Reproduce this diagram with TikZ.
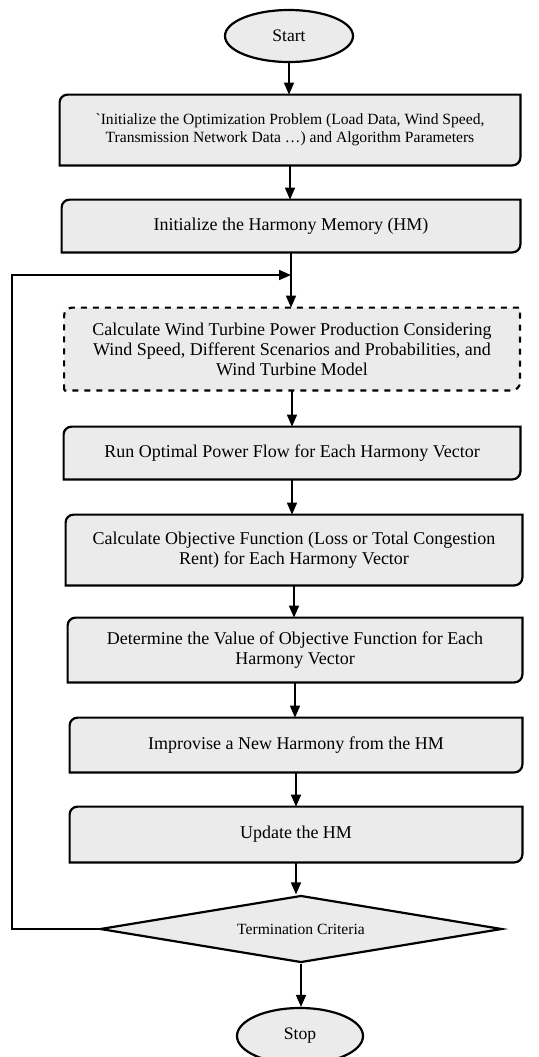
\documentclass[tikz,border=0pt]{standalone}
\usepackage{fontspec}
\setmainfont{Liberation Serif}
\usetikzlibrary{arrows.meta, shapes.geometric, backgrounds}
\definecolor{boxgray}{HTML}{EBEBEB}

\begin{document}
\begin{tikzpicture}[x=0.5pt, y=-0.5pt,
  boxline/.style={draw=black, fill=boxgray, line width=1.1pt},
  stepbox/.style={inner sep=0pt, align=center, font=\fontsize{9}{10}\selectfont},
  flow/.style={-{Triangle[length=6pt, width=5pt]}, line width=0.8pt},
  terminal/.style={ellipse, boxline, inner sep=0pt, minimum width=64pt, minimum height=26pt, font=\fontsize{8.8}{10}\selectfont}]
\useasboundingbox (0,0) rectangle (539,1057);

\node[terminal] (start) at (289,36) {Start};
\node[stepbox, minimum width=230pt, minimum height=35pt, font=\fontsize{7.8}{9}\selectfont] (init) at (290,130)
  {\textasciigrave Initialize the Optimization Problem (Load Data, Wind Speed,\\ Transmission Network Data …) and Algorithm Parameters};
\node[stepbox, minimum width=229pt, minimum height=26pt] (hm) at (291,226) {Initialize the Harmony Memory (HM)};
\node[stepbox, minimum width=227.5pt, minimum height=41pt] (wind) at (292,349)
  {Calculate Wind Turbine Power Production Considering\\ Wind Speed, Different Scenarios and Probabilities, and\\ Wind Turbine Model};
\node[stepbox, minimum width=228pt, minimum height=26pt] (opf) at (292,453) {Run Optimal Power Flow for Each Harmony Vector};
\node[stepbox, minimum width=228pt, minimum height=35pt] (obj) at (294,550)
  {Calculate Objective Function (Loss or Total Congestion\\ Rent) for Each Harmony Vector};
\node[stepbox, minimum width=227pt, minimum height=32pt] (val) at (295,650)
  {Determine the Value of Objective Function for Each\\ Harmony Vector};
\node[stepbox, minimum width=226pt, minimum height=27pt] (impr) at (296,745) {Improvise a New Harmony from the HM};
\node[stepbox, minimum width=226pt, minimum height=27.5pt] (upd) at (296,834.5) {Update the HM};
\node[diamond, boxline, inner sep=0pt, aspect=6, minimum width=201pt, minimum height=33.5pt,
  font=\fontsize{7.8}{9}\selectfont] (cond) at (301,929) {Termination Criteria};
\node[terminal, minimum width=63pt, minimum height=28pt] (stop) at (300,1036) {Stop};

% box outlines: rounded top left and bottom right only
\begin{scope}[on background layer]
\foreach \n/\ls in {init/solid, hm/solid, wind/dashed, opf/solid, obj/solid, val/solid, impr/solid, upd/solid}
  \filldraw[boxline, \ls] (\n.south west) -- ([yshift=-4pt]\n.north west) arc[start angle=180, end angle=90, radius=4pt]
    -- (\n.north east) -- ([yshift=4pt]\n.south east) arc[start angle=0, end angle=-90, radius=4pt] -- cycle;
\end{scope}

\foreach \a/\b in {start/init, init/hm, hm/wind, wind/opf, opf/obj, obj/val, val/impr, impr/upd, upd/cond, cond/stop}
  \draw[flow] (\a.south) -- (\a.south |- \b.north);

% loop back from the test
\coordinate (join) at (291,275);
\coordinate (loopx) at (12,929);
\draw[flow] (cond.west) -- (loopx) |- (join);
\end{tikzpicture}
\end{document}
